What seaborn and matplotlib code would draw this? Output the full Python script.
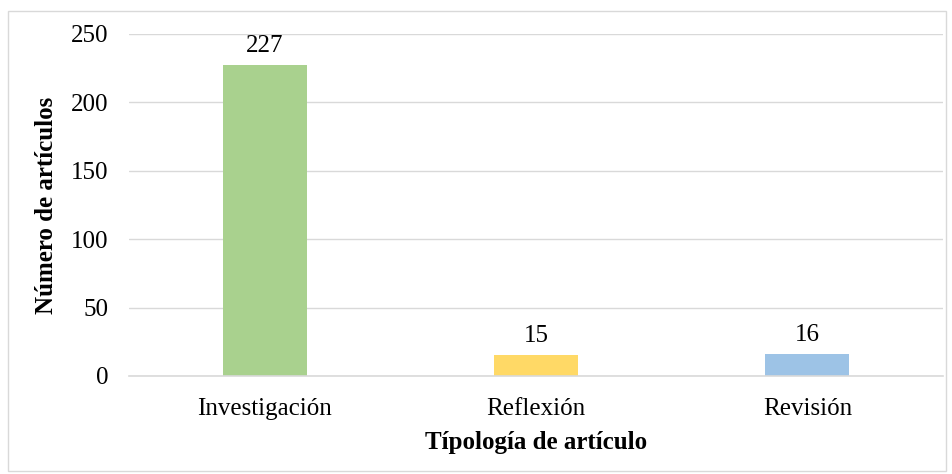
import numpy as np
import pandas as pd
import seaborn as sns
import matplotlib as mpl
mpl.use('Agg')
import matplotlib.pyplot as plt
import matplotlib.ticker as mticker
from matplotlib.patches import Rectangle

# data
tipologias = ['Investigación', 'Reflexión', 'Revisión']
num_articulos = [227, 15, 16]
colores = ['#A9D18E', '#FFD966', '#9DC3E6']

def main():
    df = pd.DataFrame({'tipologia': tipologias, 'n': num_articulos})

    sns.set_style('white')
    plt.rcParams['font.family'] = ['Liberation Serif', 'DejaVu Serif']
    plt.rcParams['text.color'] = 'black'
    plt.rcParams['xtick.color'] = 'black'
    plt.rcParams['ytick.color'] = 'black'
    plt.rcParams['axes.labelcolor'] = 'black'

    fig = plt.figure(figsize=(9.52, 4.74), dpi=100)
    ax = fig.add_axes([0.1355, 0.2068, 0.855, 0.7215])

    sns.barplot(data=df, x='tipologia', y='n', hue='tipologia', palette=colores,
                width=0.31, legend=False, saturation=1, linewidth=0, ax=ax)

    # value labels over the bars
    for cont in ax.containers:
        ax.bar_label(cont, padding=6, fontsize=18)

    ax.set_ylim(0, 250)
    ax.set_xlim(-0.5, 2.5)
    ax.yaxis.set_major_locator(mticker.MultipleLocator(50))
    ax.grid(axis='y', color='#D9D9D9', linewidth=1)
    ax.set_axisbelow(True)

    for s in ['top', 'right', 'left']:
        ax.spines[s].set_visible(False)
    ax.spines['bottom'].set_color('#D9D9D9')
    ax.spines['bottom'].set_linewidth(1.2)

    ax.tick_params(axis='y', length=0, labelsize=18, pad=15)
    ax.tick_params(axis='x', which='major', length=0, labelsize=18, pad=16)
    ax.xaxis.set_minor_locator(mticker.FixedLocator([-0.5, 0.5, 1.5, 2.5]))
    ax.tick_params(axis='x', which='minor', length=6, color='#D9D9D9', width=1.2)

    ax.set_xlabel('Típología de artículo', fontsize=18, fontweight='bold', labelpad=8)
    ax.set_ylabel('Número de artículos', fontsize=18, fontweight='bold', labelpad=9)

    # light border round the chart area
    fig.patches.append(Rectangle((8 / 952, 3 / 474), 938 / 952, 460 / 474,
                                 transform=fig.transFigure, fill=False,
                                 edgecolor='#D9D9D9', linewidth=1))

    fig.savefig('out.png', dpi=100)

if __name__ == '__main__':
    main()
